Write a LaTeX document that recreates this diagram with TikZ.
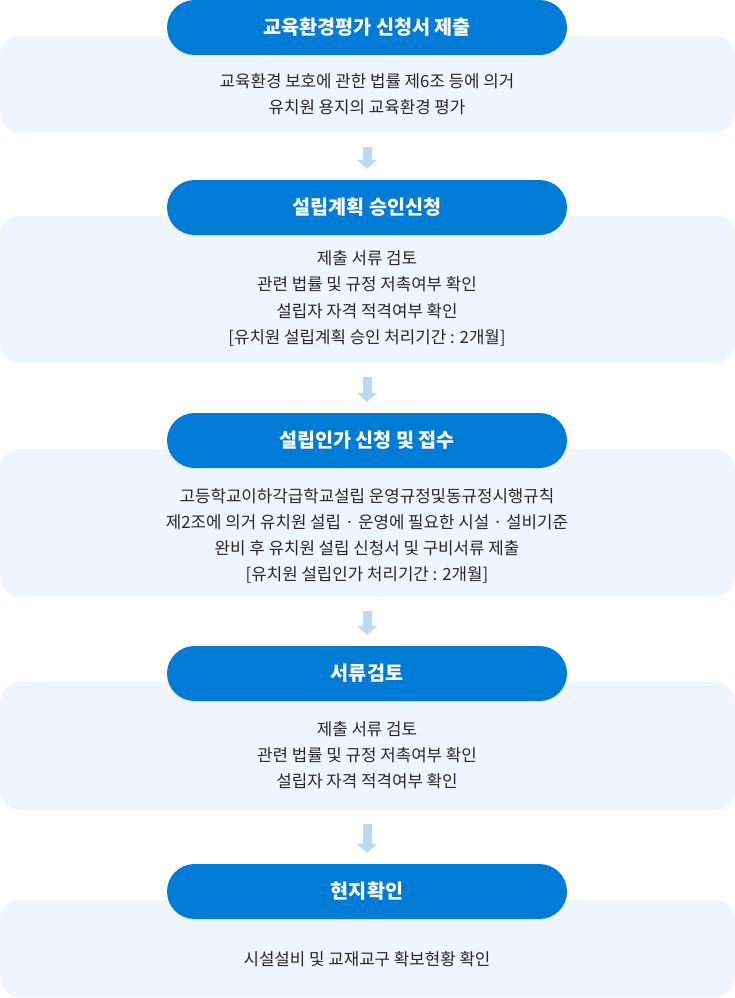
\documentclass[tikz,border=0pt]{standalone}
\usepackage{fontspec}
\setmainfont{Noto Sans CJK KR}
\usetikzlibrary{arrows.meta}
\definecolor{pillblue}{RGB}{0,123,214}
\definecolor{boxfill}{RGB}{238,245,254}
\definecolor{arrowblue}{RGB}{187,217,240}
\definecolor{bodytext}{RGB}{40,40,40}
\tikzset{
  stagebox/.style={fill=boxfill, draw=none, rounded corners=20pt, minimum width=735pt, inner sep=0pt},
  pill/.style={fill=pillblue, draw=none, rounded corners=27.5pt, minimum width=400pt, minimum height=55pt, inner sep=0pt, text=white, font=\fontsize{19.6}{22}\selectfont\bfseries},
  bodytxt/.style={align=center, text=bodytext, inner sep=0pt, font=\fontsize{16.8}{26.2}\selectfont},
  flowarrow/.style={draw=arrowblue, line width=9pt, -{Triangle[width=20pt,length=9pt]}, shorten <=14pt, shorten >=11pt}
}
\begin{document}
\begin{tikzpicture}[x=1pt,y=-1pt]
\useasboundingbox (0,0) rectangle (735,998);
% boxes
\node[stagebox, minimum height=97pt] (b1) at (367.5,84.5) {};
\node[stagebox, minimum height=147pt] (b2) at (367.5,289.5) {};
\node[stagebox, minimum height=148pt] (b3) at (367.5,523) {};
\node[stagebox, minimum height=128pt] (b4) at (367.5,746) {};
\node[stagebox, minimum height=97pt] (b5) at (367.5,948.5) {};
% pills
\node[pill] (p1) at (367,27.5) {교육환경평가 신청서 제출};
\node[pill] (p2) at (367,207.5) {설립계획 승인신청};
\node[pill] (p3) at (367,440.5) {설립인가 신청 및 접수};
\node[pill] (p4) at (367,673.5) {서류검토};
\node[pill] (p5) at (367,891.5) {현지확인};
% texts
\node[bodytxt] (t1) at (367,94.5) {교육환경 보호에 관한 법률 제6조 등에 의거\\유치원 용지의 교육환경 평가};
\node[bodytxt] (t2) at (367,298.5) {제출 서류 검토\\관련 법률 및 규정 저촉여부 확인\\설립자 자격 적격여부 확인\\{[}유치원 설립계획 승인 처리기간 : 2개월{]}};
\node[bodytxt] (t3) at (367,536) {고등학교이하각급학교설립 운영규정및동규정시행규칙\\제2조에 의거 유치원 설립 · 운영에 필요한 시설 · 설비기준\\완비 후 유치원 설립 신청서 및 구비서류 제출\\{[}유치원 설립인가 처리기간 : 2개월{]}};
\node[bodytxt] (t4) at (367,755) {제출 서류 검토\\관련 법률 및 규정 저촉여부 확인\\설립자 자격 적격여부 확인};
\node[bodytxt] (t5) at (367,959.5) {시설설비 및 교재교구 확보현황 확인};
% arrows
\draw[flowarrow] (b1.south -| p2.north) -- (p2.north);
\draw[flowarrow] (b2.south -| p3.north) -- (p3.north);
\draw[flowarrow] (b3.south -| p4.north) -- (p4.north);
\draw[flowarrow] (b4.south -| p5.north) -- (p5.north);
\end{tikzpicture}
\end{document}
